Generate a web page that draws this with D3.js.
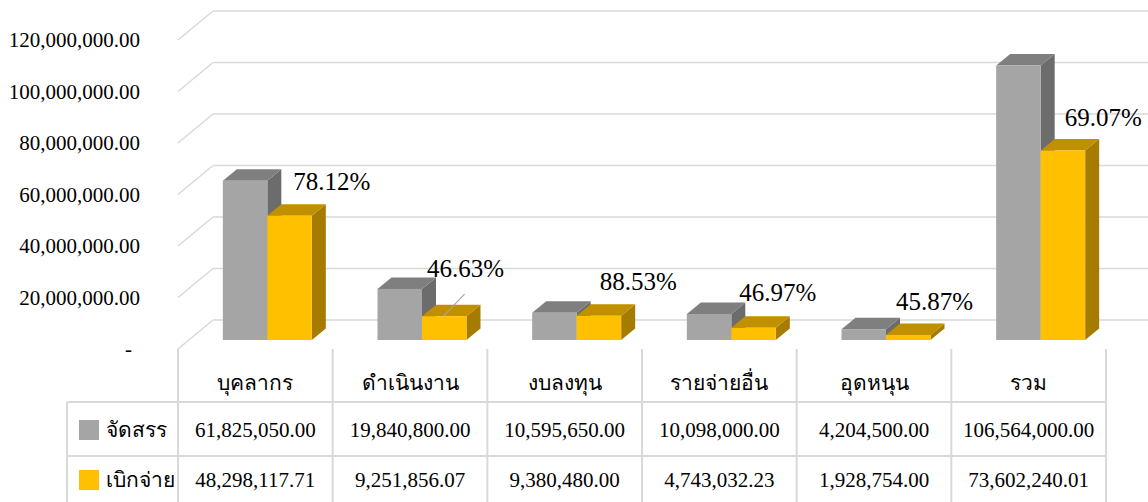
<!DOCTYPE html>
<html>
<head>
<meta charset="utf-8">
<script src="https://cdn.jsdelivr.net/npm/d3@7"></script>
<style>
  body { margin: 0; background: #fff; }
  text { font-family: "Liberation Serif", "Times New Roman", serif; fill: #000; }
</style>
</head>
<body>
<div id="chart"></div>
<script>
// Data
const categories = ["บุคลากร", "ดำเนินงาน", "งบลงทุน", "รายจ่ายอื่น", "อุดหนุน", "รวม"];
const seriesNames = ["จัดสรร", "เบิกจ่าย"];
const allocated = [61825050.00, 19840800.00, 10595650.00, 10098000.00, 4204500.00, 106564000.00];
const disbursed = [48298117.71, 9251856.07, 9380480.00, 4743032.23, 1928754.00, 73602240.01];
const yTicks = [0, 20000000, 40000000, 60000000, 80000000, 100000000, 120000000];

// manual label nudges (dx from yellow bar right edge, dy from its top)
const labelNudge = [[20, -34], [-1, -48], [17, -34], [2, -35], [4, -34], [18, -33]];

const W = 1148, H = 502;
const svg = d3.select("#chart").append("svg")
    .attr("width", W).attr("height", H);

const grid = "#d9d9d9";
const wall = { dx: 35, dy: -29 };     // back wall offset
const barOff = { dx: 12, dy: -9 };    // bar front plane offset
const barDepth = { dx: 14, dy: -11.5 };

const x0 = d3.scaleBand().domain(categories).range([178, 1106]);
const x1 = d3.scaleBand().domain(seriesNames).range([0, 89]);
const y = d3.scaleLinear().domain([0, 120000000]).range([349, 40]);

const colors = {
    "จัดสรร": { front: "#a5a5a5", top: "#7f7f7f", side: "#6c6c6c" },
    "เบิกจ่าย": { front: "#ffc000", top: "#c09000", side: "#a57c00" }
};

// Gridlines: back wall + diagonal on side
yTicks.forEach(t => {
    const yf = y(t);
    svg.append("line")
        .attr("x1", 178).attr("y1", yf)
        .attr("x2", 178 + wall.dx).attr("y2", yf + wall.dy)
        .attr("stroke", grid).attr("stroke-width", 1.5);
    svg.append("line")
        .attr("x1", 178 + wall.dx).attr("y1", yf + wall.dy)
        .attr("x2", W).attr("y2", yf + wall.dy)
        .attr("stroke", grid).attr("stroke-width", 1.5);
});

// Y axis
const yAxis = svg.append("g")
    .attr("transform", "translate(148,0)")
    .call(d3.axisLeft(y)
        .tickValues(yTicks)
        .tickSize(0)
        .tickPadding(8)
        .tickFormat(d => d === 0 ? "-" : d3.format(",.2f")(d)));
yAxis.select(".domain").remove();
yAxis.selectAll("text")
    .attr("font-size", 21)
    .style("font-family", "'Liberation Serif', serif");
yAxis.selectAll(".tick").filter(d => d === 0).select("text").attr("dx", -8);

// Bars
function drawBar(g, xl, w, v, c) {
    const base = y(0) + barOff.dy;
    const top = base - (y(0) - y(v));
    const xr = xl + w;
    // side
    g.append("path")
        .attr("d", `M${xr},${top} L${xr + barDepth.dx},${top + barDepth.dy} L${xr + barDepth.dx},${base + barDepth.dy} L${xr},${base} Z`)
        .attr("fill", c.side);
    // top
    g.append("path")
        .attr("d", `M${xl},${top} L${xl + barDepth.dx},${top + barDepth.dy} L${xr + barDepth.dx},${top + barDepth.dy} L${xr},${top} Z`)
        .attr("fill", c.top);
    // front
    g.append("rect")
        .attr("x", xl).attr("y", top)
        .attr("width", w).attr("height", base - top)
        .attr("fill", c.front);
}

const bars = svg.append("g");
categories.forEach((cat, i) => {
    const cx = x0(cat) + x0.bandwidth() / 2 + barOff.dx;
    const start = cx - x1.range()[1] / 2;
    const g = bars.append("g");
    drawBar(g, start + x1(seriesNames[0]), x1.bandwidth(), allocated[i], colors[seriesNames[0]]);
    drawBar(g, start + x1(seriesNames[1]), x1.bandwidth(), disbursed[i], colors[seriesNames[1]]);
});

// Percent labels
categories.forEach((cat, i) => {
    const cx = x0(cat) + x0.bandwidth() / 2 + barOff.dx;
    const start = cx - x1.range()[1] / 2;
    const yr = start + x1(seriesNames[1]) + x1.bandwidth();
    const ytop = y(disbursed[i]) + barOff.dy;
    const lx = yr + labelNudge[i][0];
    const ly = ytop + labelNudge[i][1];
    svg.append("text")
        .attr("x", lx).attr("y", ly)
        .attr("text-anchor", "middle")
        .attr("dominant-baseline", "central")
        .attr("font-size", 25)
        .text(d3.format(".2%")(disbursed[i] / allocated[i]));
    if (i === 1) {
        svg.append("line")
            .attr("x1", yr - 23).attr("y1", ytop)
            .attr("x2", yr - 2).attr("y2", ly + 26)
            .attr("stroke", "#a5a5a5").attr("stroke-width", 1.2);
    }
});

// Data table
const rowY = [349, 402, 456, H];
const tbl = svg.append("g").attr("stroke", grid).attr("stroke-width", 2);
// verticals
x0.domain().forEach(c => {
    tbl.append("line").attr("x1", x0(c)).attr("x2", x0(c)).attr("y1", rowY[0]).attr("y2", H);
});
tbl.append("line").attr("x1", 1106).attr("x2", 1106).attr("y1", rowY[0]).attr("y2", H);
tbl.append("line").attr("x1", 67).attr("x2", 67).attr("y1", rowY[1]).attr("y2", H);
// horizontals
[rowY[1], rowY[2]].forEach(yy => {
    tbl.append("line").attr("x1", 67).attr("x2", 1106).attr("y1", yy).attr("y2", yy);
});

// header
categories.forEach(c => {
    svg.append("text")
        .attr("x", x0(c) + x0.bandwidth() / 2)
        .attr("y", (rowY[0] + rowY[1]) / 2 + 7)
        .attr("text-anchor", "middle")
        .attr("dominant-baseline", "central")
        .attr("font-size", 21)
        .text(c);
});

// rows
const rows = [allocated, disbursed];
rows.forEach((vals, r) => {
    const cy = (rowY[r + 1] + rowY[r + 2]) / 2 + 1;
    const name = seriesNames[r];
    svg.append("rect")
        .attr("x", 79).attr("y", cy - 10)
        .attr("width", 20).attr("height", 20)
        .attr("fill", colors[name].front);
    svg.append("text")
        .attr("x", 106).attr("y", cy)
        .attr("dominant-baseline", "central")
        .attr("font-size", 21)
        .text(name);
    vals.forEach((v, i) => {
        svg.append("text")
            .attr("x", x0(categories[i]) + x0.bandwidth() / 2)
            .attr("y", cy)
            .attr("text-anchor", "middle")
            .attr("dominant-baseline", "central")
            .attr("font-size", 21)
            .text(d3.format(",.2f")(v));
    });
});
</script>
</body>
</html>
